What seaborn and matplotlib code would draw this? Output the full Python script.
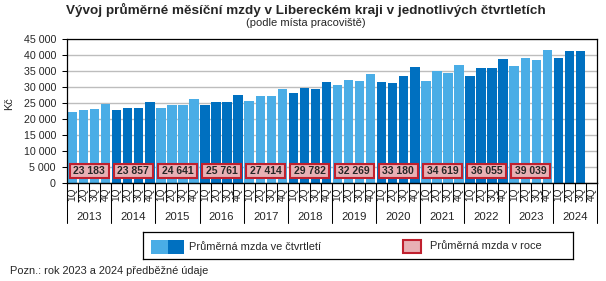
import numpy as np
import pandas as pd
import matplotlib
matplotlib.use("Agg")
import matplotlib.pyplot as plt
import seaborn as sns
from matplotlib.patches import Rectangle
from matplotlib.lines import Line2D

# ---------------- data ----------------
years = [2013, 2014, 2015, 2016, 2017, 2018, 2019, 2020, 2021, 2022, 2023, 2024]
quarter_labels = ["1Q", "2Q", "3Q", "4Q"]
quarterly_wage = [
    22300, 22900, 23200, 24800,   # 2013
    22900, 23500, 23500, 25400,   # 2014
    23500, 24500, 24500, 26300,   # 2015
    24500, 25400, 25400, 27600,   # 2016
    25700, 27300, 27300, 29500,   # 2017
    28200, 29800, 29500, 31700,   # 2018
    30700, 32300, 32000, 34200,   # 2019
    31700, 31400, 33500, 36300,   # 2020
    32000, 35100, 34500, 37000,   # 2021
    33500, 36000, 36000, 38900,   # 2022
    36700, 39200, 38500, 41700,   # 2023
    39200, 41400, 41400,          # 2024
]
annual_years = [2013, 2014, 2015, 2016, 2017, 2018, 2019, 2020, 2021, 2022, 2023]
annual_wage = [23183, 23857, 24641, 25761, 27414, 29782, 32269, 33180, 34619, 36055, 39039]

title = "Vývoj průměrné měsíční mzdy v Libereckém kraji v jednotlivých čtvrtletích"
subtitle = "(podle místa pracoviště)"
legend_q = "Průměrná mzda ve čtvrtletí"
legend_y = "Průměrná mzda v roce"
note = "Pozn.: rok 2023 a 2024 předběžné údaje"

LIGHT = "#4AADE6"
DARK = "#0070C0"
PINK = "#E8B0B4"
RED = "#C0202E"

# ---------------- style ----------------
sns.set_style("ticks")
plt.rcParams["font.family"] = ["Liberation Sans", "DejaVu Sans"]

W, H = 606, 281
fig = plt.figure(figsize=(W / 100, H / 100), dpi=100)

ax_l, ax_r, ax_t, ax_b = 67, 597, 39.5, 183.3
ax = fig.add_axes([ax_l / W, 1 - ax_b / H, (ax_r - ax_l) / W, (ax_b - ax_t) / H])

n = len(quarterly_wage)
year_of = [years[i // 4] for i in range(n)]
df = pd.DataFrame({
    "pos": np.arange(n),
    "mzda": quarterly_wage,
    "rok": year_of,
    "skupina": ["a" if (y - years[0]) % 2 == 0 else "b" for y in year_of],
})

ax.set_axisbelow(True)
ax.yaxis.grid(True, color="#BDBDBD", linewidth=1.0)
sns.barplot(data=df, x="pos", y="mzda", hue="skupina",
            palette={"a": LIGHT, "b": DARK}, dodge=False, native_scale=True,
            width=0.85, saturation=1, linewidth=0, errorbar=None,
            legend=False, ax=ax, zorder=2)

nslots = len(years) * 4
ax.set_xlim(-0.5, nslots - 0.5)
ax.set_ylim(0, 45000)
yt = np.arange(0, 45001, 5000)
ax.set_yticks(yt)
ax.set_yticklabels([f"{v:,}".replace(",", " ") for v in yt], fontsize=7.7)
ax.tick_params(axis="y", length=3.5, width=0.75, pad=4.5, color="black")
ax.set_ylabel("")
ax.set_xlabel("")

for s in ax.spines.values():
    s.set_visible(True)
    s.set_color("black")
    s.set_linewidth(0.9)
ax.spines["bottom"].set_linewidth(1.0)

# quarter ticks
ax.set_xticks(np.arange(-0.5, nslots, 1))
ax.set_xticklabels([""] * (nslots + 1))
ax.tick_params(axis="x", which="major", length=13.5, width=0.75, color="black")
ax.set_xticks(np.arange(nslots), minor=True)
ax.set_xticklabels(quarter_labels * len(years), minor=True, rotation=90, fontsize=7.3)
ax.tick_params(axis="x", which="minor", length=0, pad=3)

# year separators and labels
tr = ax.get_xaxis_transform()
axh = ax_b - ax_t
for k in range(len(years) + 1):
    ax.add_line(Line2D([4 * k - 0.5, 4 * k - 0.5], [0, -40 / axh], transform=tr,
                       color="black", linewidth=0.75, clip_on=False))
for k, y in enumerate(years):
    ax.text(4 * k + 1.5, -(216.5 - ax_b) / axh, str(y), transform=tr,
            ha="center", va="center", fontsize=8.2)

# annual boxes
for k, (y, v) in enumerate(zip(annual_years, annual_wage)):
    c = 4 * years.index(y) + 1.5
    ax.add_patch(Rectangle((c - 1.76, 1750), 3.52, 4375, facecolor=PINK,
                           edgecolor=RED, linewidth=1.5, zorder=3))
    ax.text(c, 3940, f"{v:,}".replace(",", " "), ha="center", va="center",
            fontsize=7.5, fontweight="bold", zorder=4)

# titles
fig.text(0.505, 1 - 10 / H, title, ha="center", va="center", fontsize=9.7, fontweight="bold")
fig.text(0.505, 1 - 23 / H, subtitle, ha="center", va="center", fontsize=8)
fig.text(9 / W, 1 - 104 / H, "Kč", ha="center", va="center", rotation=90, fontsize=7.8)
fig.text(10 / W, 1 - 271.5 / H, note, ha="left", va="center", fontsize=7.9)

# legend
lx0, lx1, ly0, ly1 = 143, 573, 232, 259
lax = fig.add_axes([lx0 / W, 1 - ly1 / H, (lx1 - lx0) / W, (ly1 - ly0) / H])
lax.set_xlim(lx0, lx1)
lax.set_ylim(ly1, ly0)
lax.set_xticks([])
lax.set_yticks([])
for s in lax.spines.values():
    s.set_color("black")
    s.set_linewidth(0.9)
lax.add_patch(Rectangle((151, 240.3), 16.5, 13.4, facecolor=LIGHT, linewidth=0))
lax.add_patch(Rectangle((167.5, 240.3), 16.5, 13.4, facecolor=DARK, linewidth=0))
lax.text(189, 246.5, legend_q, ha="left", va="center", fontsize=7.9)
lax.add_patch(Rectangle((402.7, 240), 18, 12.7, facecolor=PINK, edgecolor=RED, linewidth=1.5))
lax.text(430.5, 246, legend_y, ha="left", va="center", fontsize=7.9)

fig.savefig("out.png", dpi=100)
